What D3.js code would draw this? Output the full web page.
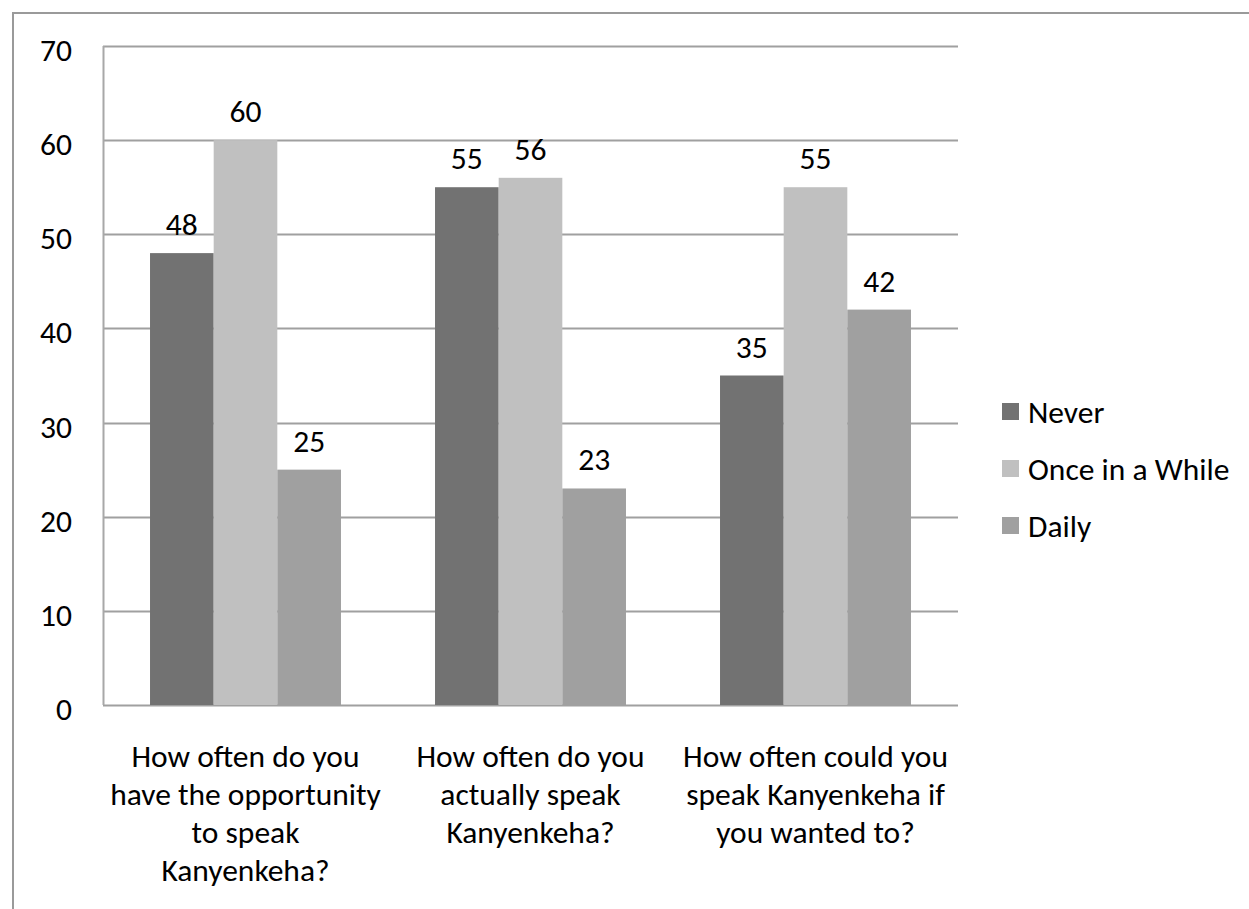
<!DOCTYPE html>
<html>
<head>
<meta charset="utf-8">
<script src="https://cdn.jsdelivr.net/npm/d3@7/dist/d3.min.js"></script>
<style>
  html, body { margin: 0; padding: 0; background: #fff; }
  svg text { font-family: Carlito, Calibri, Lato, sans-serif; fill: #000; }
</style>
</head>
<body>
<svg id="chart" width="1249" height="909"></svg>
<script>
// Survey questions (x categories), each wrapped onto lines
const categories = ["Q1", "Q2", "Q3"];
const categoryLines = [
  ["How often do you", "have the opportunity", "to speak", "Kanyenkeha?"],
  ["How often do you", "actually speak", "Kanyenkeha?"],
  ["How often could you", "speak Kanyenkeha if", "you wanted to?"]
];
const seriesNames = ["Never", "Once in a While", "Daily"];
const never = [48, 55, 35];
const onceInAWhile = [60, 56, 55];
const daily = [25, 23, 42];
const yTicks = [0, 10, 20, 30, 40, 50, 60, 70];
const seriesColors = ["#727272", "#c0c0c0", "#a0a0a0"];

const seriesValues = [never, onceInAWhile, daily];
const FS = 31.5;

const svg = d3.select("#chart");
const W = 1249, H = 909;
const plot = { left: 103, right: 958, top: 46, bottom: 705 };

// outer chart frame (runs off the right and bottom edges)
svg.append("rect")
  .attr("x", 13).attr("y", 13)
  .attr("width", W + 20).attr("height", H + 20)
  .attr("fill", "none").attr("stroke", "#9a9a9a").attr("stroke-width", 2);

const x0 = d3.scaleBand().domain(categories).range([plot.left, plot.right])
  .paddingInner(0.33).paddingOuter(0.165);
const x1 = d3.scaleBand().domain(seriesNames).range([0, x0.bandwidth()]).padding(0);
const y = d3.scaleLinear().domain([0, 70]).range([plot.bottom, plot.top]);

// gridlines
svg.append("g").selectAll("line").data(yTicks).join("line")
  .attr("x1", plot.left).attr("x2", plot.right)
  .attr("y1", d => Math.round(y(d)) + 0.5).attr("y2", d => Math.round(y(d)) + 0.5)
  .attr("stroke", "#a0a0a0").attr("stroke-width", 2);

// left axis line
svg.append("line")
  .attr("x1", plot.left + 0.5).attr("x2", plot.left + 0.5)
  .attr("y1", plot.top).attr("y2", plot.bottom)
  .attr("stroke", "#a8a8a8").attr("stroke-width", 2);

// y tick labels
const yAxis = d3.axisLeft(y).tickValues(yTicks).tickSize(0).tickPadding(31);
const gy = svg.append("g").attr("transform", `translate(${plot.left},0)`).call(yAxis);
gy.select(".domain").remove();
gy.selectAll("text").attr("font-size", FS).attr("dy", 14.5)
  .style("font-family", "Carlito, Calibri, Lato, sans-serif");

// bars
const groups = svg.append("g").selectAll("g").data(categories).join("g")
  .attr("transform", d => `translate(${x0(d)},0)`);

groups.each(function(cat, ci) {
  const g = d3.select(this);
  seriesNames.forEach((s, si) => {
    const v = seriesValues[si][ci];
    g.append("rect")
      .attr("x", x1(s)).attr("width", x1.bandwidth())
      .attr("y", y(v)).attr("height", y(0) - y(v))
      .attr("fill", seriesColors[si]);
    g.append("text")
      .attr("x", x1(s) + x1.bandwidth() / 2)
      .attr("y", y(v) - 18)
      .attr("text-anchor", "middle").attr("font-size", FS)
      .text(v);
  });
});

// category labels
const xl = svg.append("g");
categories.forEach((c, ci) => {
  const t = xl.append("text")
    .attr("text-anchor", "middle").attr("font-size", FS)
    .attr("x", x0(c) + x0.bandwidth() / 2);
  categoryLines[ci].forEach((line, li) => {
    t.append("tspan")
      .attr("x", x0(c) + x0.bandwidth() / 2)
      .attr("y", 767 + li * 38)
      .text(line);
  });
});

// legend
const legend = svg.append("g").attr("transform", "translate(1002,403)");
seriesNames.forEach((s, i) => {
  legend.append("rect").attr("x", 0).attr("y", i * 57)
    .attr("width", 17).attr("height", 17).attr("fill", seriesColors[i]);
  legend.append("text").attr("x", 26).attr("y", i * 57 + 20)
    .attr("font-size", FS).text(s);
});
</script>
</body>
</html>
